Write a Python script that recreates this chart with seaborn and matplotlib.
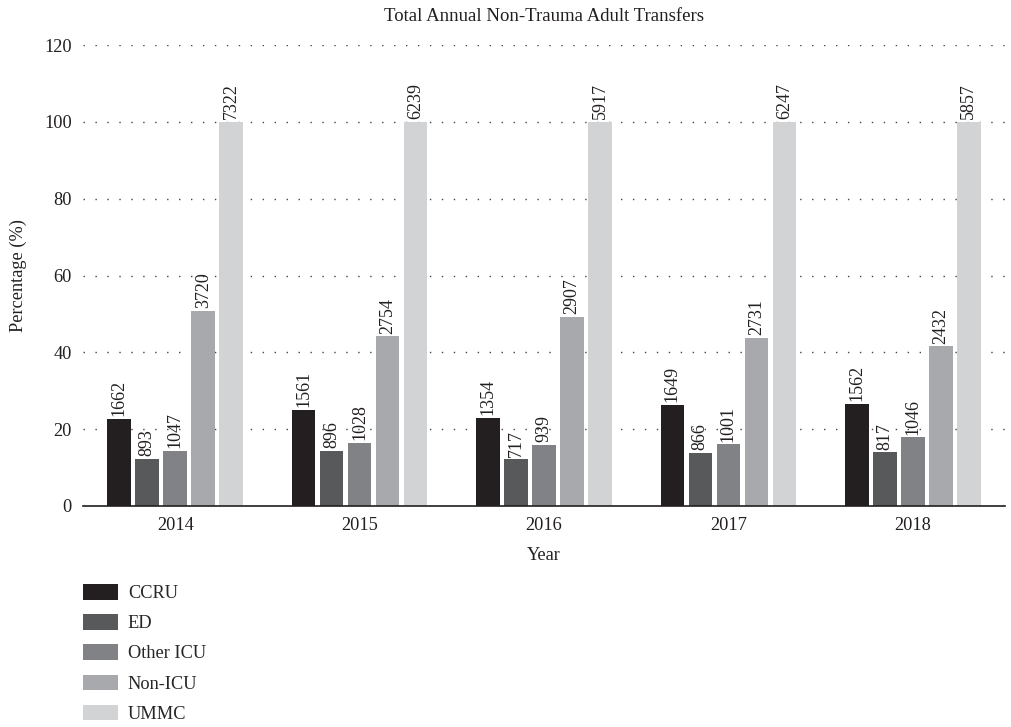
import matplotlib
matplotlib.use("Agg")
import matplotlib.pyplot as plt
import seaborn as sns
import pandas as pd

# Annual non-trauma adult transfer counts by destination
years = ["2014", "2015", "2016", "2017", "2018"]
destinations = ["CCRU", "ED", "Other ICU", "Non-ICU", "UMMC"]
ccru = [1662, 1561, 1354, 1649, 1562]
ed = [893, 896, 717, 866, 817]
other_icu = [1047, 1028, 939, 1001, 1046]
non_icu = [3720, 2754, 2907, 2731, 2432]
ummc = [7322, 6239, 5917, 6247, 5857]

palette = ["#231f20", "#58595b", "#808285", "#a7a9ac", "#d1d3d4"]

counts = dict(zip(destinations, [ccru, ed, other_icu, non_icu, ummc]))
rows = []
for dest in destinations:
    for i, yr in enumerate(years):
        rows.append({"Year": yr, "Destination": dest, "Count": counts[dest][i],
                     "Percentage": counts[dest][i] / ummc[i] * 100})
df = pd.DataFrame(rows)

sns.set_theme(style="white")
plt.rcParams["font.family"] = ["Liberation Serif", "DejaVu Serif"]

fig = plt.figure(figsize=(10.11, 7.27), dpi=100)
ax = fig.add_axes([83 / 1011, 1 - 506 / 727, (1005 - 83) / 1011, (506 - 45) / 727])

sns.barplot(data=df, x="Year", y="Percentage", hue="Destination",
            order=years, hue_order=destinations, palette=palette,
            width=0.76, gap=0.16, saturation=1, errorbar=None, linewidth=0,
            ax=ax, zorder=3)

for cont, dest in zip(ax.containers, destinations):
    ax.bar_label(cont, labels=[str(v) for v in counts[dest]], rotation=90,
                 padding=2, fontsize=13, color="#231f20")

ax.set_ylim(0, 120)
ax.set_yticks(range(0, 121, 20))
ax.yaxis.grid(True, linestyle=(0, (1, 7.6)), color="#444444", linewidth=1, zorder=0)
ax.set_axisbelow(True)
for side in ["left", "right", "top"]:
    ax.spines[side].set_visible(False)
ax.spines["bottom"].set_color("#231f20")
ax.spines["bottom"].set_linewidth(1.2)
ax.spines["bottom"].set_zorder(4)
ax.tick_params(axis="both", length=0, labelsize=13.2, colors="#231f20", pad=8)

ax.set_xlabel("Year", fontsize=13.2, color="#231f20", labelpad=9)
ax.set_ylabel("Percentage (%)", fontsize=13.2, color="#231f20", labelpad=12)
ax.set_title("Total Annual Non-Trauma Adult Transfers", fontsize=13.5,
             color="#231f20", pad=17)

handles, labels = ax.get_legend_handles_labels()
ax.legend(handles, labels, loc="upper left",
          bbox_to_anchor=(83 / 1011, 1 - 584 / 727), bbox_transform=fig.transFigure,
          frameon=False, fontsize=13.2, handlelength=1.9, handleheight=0.93,
          labelspacing=0.66, handletextpad=0.55, borderpad=0, borderaxespad=0)

fig.savefig("out.png", dpi=100)
